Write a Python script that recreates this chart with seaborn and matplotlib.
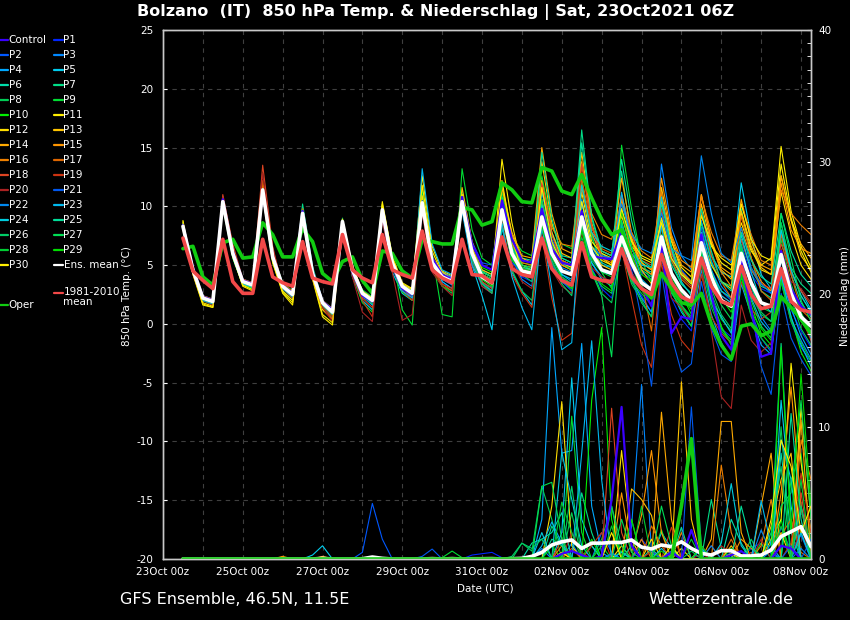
import numpy as np
import pandas as pd
import matplotlib
matplotlib.use('Agg')
import matplotlib.pyplot as plt
import matplotlib.dates as mdates
from matplotlib.lines import Line2D
from matplotlib.ticker import MultipleLocator
import seaborn as sns

# 6-hourly steps, 23Oct 12z .. 08Nov 06z
times = pd.date_range('2021-10-23 12:00', periods=64, freq='6h')

member_names = ['Control'] + ['P%d' % i for i in range(1, 31)]
member_colors = ['#3a00ff', '#0026ff', '#0058ff', '#0088ff', '#00a8ff', '#00ccee',
                 '#00ddaa', '#00dd88', '#00cc55', '#00dd33', '#00ee00', '#ffee00',
                 '#ffdd00', '#ffc400', '#ffaa00', '#ff9500', '#ee8000', '#dd6600',
                 '#dd4422', '#cc3311', '#aa2222', '#0058ee', '#0088ee', '#00b8ee',
                 '#00ccdd', '#00dd99', '#00cc66', '#00dd55', '#00cc33', '#00dd00',
                 '#ffee00']
oper_color = '#11cc11'
clim_color = '#f24848'

ens_mean_temp = [8.3, 4.6, 2.2, 1.9, 10.4, 6.0, 3.6, 3.3, 11.4, 5.7, 3.2, 2.5, 9.4, 4.3, 1.8, 1.0,
                 8.7, 4.6, 2.6, 2.0, 9.7, 5.2, 3.2, 2.6, 10.3, 5.2, 4.0, 3.6, 10.4, 6.0, 4.0, 3.5,
                 9.7, 6.0, 4.5, 4.3, 9.1, 6.0, 4.5, 4.2, 9.1, 6.0, 4.6, 4.3, 7.4, 5.2, 3.5, 2.9,
                 7.4, 4.3, 2.9, 2.0, 6.9, 4.0, 2.0, 1.5, 6.0, 3.5, 1.8, 1.5, 5.9, 2.6, 0.6, -0.2]
oper_temp = [6.4, 6.6, 4.0, 3.3, 6.9, 7.2, 5.6, 5.7, 8.6, 7.6, 5.7, 5.7, 8.1, 7.0, 4.3, 3.6,
             5.3, 5.7, 3.7, 2.6, 6.2, 6.0, 4.5, 3.9, 7.2, 7.0, 6.8, 6.8, 9.9, 9.7, 8.4, 8.7,
             12.0, 11.4, 10.4, 10.3, 13.3, 13.0, 11.3, 11.0, 12.7, 10.7, 8.9, 7.6, 8.0, 5.6, 3.0, 2.2,
             4.3, 3.0, 1.8, 1.6, 2.6, 0.0, -1.8, -3.0, -0.2, 0.0, -1.0, -0.6, 2.3, 1.4, 0.4, -0.8]
clim_temp = [7.3, 4.5, 3.7, 3.0, 7.2, 3.6, 2.6, 2.6, 7.2, 4.0, 3.5, 3.2, 7.0, 3.9, 3.6, 3.4,
             7.6, 4.6, 3.9, 3.5, 7.6, 4.6, 4.2, 3.9, 7.9, 4.6, 3.9, 3.5, 7.2, 4.2, 4.1, 3.5,
             7.4, 4.7, 4.2, 4.0, 7.3, 4.7, 3.7, 3.3, 6.9, 4.0, 3.7, 3.6, 6.4, 4.0, 3.0, 2.5,
             5.9, 3.5, 2.3, 1.9, 5.6, 3.2, 1.9, 1.6, 4.9, 2.5, 1.3, 1.5, 4.7, 1.9, 1.2, 1.0]
ens_mean_precip = [0, 0, 0, 0, 0, 0, 0, 0, 0, 0, 0, 0, 0, 0, 0.05, 0,
                   0, 0, 0.02, 0.15, 0.05, 0, 0, 0, 0, 0.03, 0, 0.03, 0, 0.02, 0.02, 0.03,
                   0, 0.02, 0.05, 0.2, 0.5, 1.06, 1.3, 1.44, 0.8, 1.2, 1.2, 1.25, 1.25, 1.44, 0.9, 0.76,
                   1.06, 0.93, 1.3, 0.8, 0.43, 0.3, 0.63, 0.63, 0.23, 0.23, 0.3, 0.68, 1.7, 2.07, 2.45, 0.93]
oper_precip = [0, 0, 0, 0, 0, 0, 0, 0, 0, 0, 0, 0, 0, 0, 0, 0,
               0, 0, 0, 0, 0, 0, 0, 0, 0, 0, 0, 0, 0, 0, 0, 0,
               0, 0, 0, 0, 0, 0, 0, 0, 0, 0, 0, 0, 0, 0, 0, 0,
               0, 0, 4.0, 9.1, 0, 0, 0, 0, 0, 0, 0, 0, 0, 0, 0, 0]

# one row per member (Control, P1..P30), degC
member_temp = [
    [8.4, 4.8, 2.3, 2.0, 10.6, 6.2, 3.7, 3.4, 11.2, 5.8, 3.3, 2.6, 9.6, 4.5, 1.9, 1.2, 8.4, 4.4, 2.4, 1.9, 9.5, 5.0, 3.0, 2.5, 10.1, 5.6, 4.2, 3.8, 10.8, 6.8, 5.0, 4.6, 10.5, 7.2, 5.4, 5.2, 9.8, 6.4, 5.2, 5.0, 9.6, 5.8, 5.6, 5.5, 7.8, 5.0, 3.2, 1.5, 6.8, -0.8, 0.6, 0.4, 7.6, 2.5, -1.0, -2.2, 5.5, 1.2, -2.8, -2.5, 6.2, 3.0, 1.5, 0.8],
    [8.6, 4.9, 2.0, 1.7, 10.6, 5.8, 3.5, 3.1, 11.8, 5.5, 3.0, 2.3, 9.9, 4.6, 1.6, 0.7, 8.9, 4.2, 2.4, 1.6, 9.2, 4.9, 3.1, 2.3, 10.6, 5.4, 3.6, 3.0, 9.8, 5.2, 3.2, 2.6, 9.0, 5.6, 4.0, 3.6, 10.2, 6.8, 5.1, 4.6, 8.2, 4.8, 3.0, 2.2, 6.1, 3.6, 2.4, 1.0, 5.8, 2.2, 0.4, -0.6, 5.2, 1.8, -0.4, -1.1, 6.8, 4.2, 3.0, 2.6, 4.8, 1.2, -0.6, -2.0],
    [8.2, 4.4, 2.1, 1.8, 10.2, 5.9, 3.7, 3.4, 11.0, 5.9, 3.4, 2.8, 9.2, 4.0, 1.7, 0.9, 8.5, 4.8, 2.8, 2.2, 10.0, 5.6, 3.4, 2.9, 9.8, 5.0, 4.2, 4.0, 11.2, 7.0, 5.2, 5.0, 10.6, 6.4, 4.6, 4.2, 8.4, 5.4, 3.6, 3.0, 10.2, 7.6, 6.2, 5.8, 8.6, 5.8, 4.4, 3.8, 9.6, 6.0, 4.6, 3.6, 8.2, 4.6, 2.8, 2.0, 4.8, 1.0, -1.2, -2.4, 3.6, 0.2, -2.0, -3.2],
    [8.5, 4.6, 2.4, 2.1, 10.5, 6.1, 3.8, 3.5, 11.6, 5.9, 3.4, 2.7, 9.6, 4.3, 1.8, 1.1, 8.6, 4.3, 2.3, 1.8, 9.8, 5.3, 3.3, 2.8, 10.4, 4.9, 3.8, 3.3, 10.0, 5.4, 3.5, 3.1, 9.4, 5.5, 3.8, 3.2, 11.2, 7.2, 5.4, 5.0, 10.4, 6.6, 5.0, 4.8, 7.0, 4.4, 3.0, 2.6, 13.6, 8.2, 5.8, 4.6, 8.8, 5.4, 3.2, 2.2, 6.6, 3.2, 0.6, -0.6, 4.2, 0.4, -1.4, -3.0],
    [8.1, 4.3, 2.0, 1.6, 10.1, 5.6, 3.4, 3.0, 11.1, 5.4, 3.0, 2.2, 9.0, 4.0, 1.5, 0.6, 8.8, 4.8, 2.7, 2.1, 9.6, 5.0, 3.0, 2.4, 10.8, 5.6, 4.4, 4.0, 11.0, 6.4, 4.2, 3.8, 10.2, 6.2, 4.8, 4.6, 9.6, 6.0, 4.2, 3.6, 8.8, 5.2, 4.0, 3.4, 6.6, 3.8, 2.2, 1.0, 6.2, 2.8, 1.0, -0.2, 4.6, 0.8, -1.6, -3.0, 3.4, 0.8, -1.8, -2.6, 4.0, 1.4, -1.0, -2.6],
    [8.4, 4.5, 2.2, 1.8, 10.3, 6.2, 3.6, 3.2, 11.3, 5.6, 3.1, 2.4, 9.2, 4.1, 1.6, 0.8, 8.4, 4.0, 2.0, 1.2, 9.0, 4.4, 2.6, 2.0, 11.0, 5.8, 3.6, 3.0, 10.0, 5.0, 2.4, -0.5, 8.2, 4.4, 2.8, 1.6, 9.8, 6.0, 4.2, 3.8, 9.6, 5.2, 3.8, 3.2, 8.4, 6.0, 4.8, 4.2, 9.0, 5.6, 4.2, 3.6, 9.6, 5.8, 4.4, 4.0, 12.0, 7.4, 4.2, 3.0, 7.6, 4.4, 2.8, 1.2],
    [8.3, 4.7, 2.3, 2.0, 10.4, 6.0, 3.5, 3.3, 11.5, 5.8, 3.2, 2.6, 9.7, 4.6, 2.0, 1.3, 8.9, 4.7, 2.7, 2.2, 10.0, 5.5, 3.3, 2.8, 9.9, 5.0, 3.9, 3.5, 10.6, 6.2, 4.6, 4.2, 10.8, 7.0, 5.6, 5.4, 11.6, 7.8, 5.8, 5.6, 12.0, 7.4, 5.2, 4.8, 9.6, 6.4, 4.8, 4.4, 8.8, 5.0, 3.4, 2.6, 7.6, 4.4, 2.8, 2.2, 7.2, 4.6, 3.2, 2.8, 8.0, 4.2, 1.8, 0.6],
    [8.5, 4.8, 2.3, 1.9, 10.7, 6.3, 3.7, 3.4, 11.6, 5.6, 3.1, 2.4, 10.2, 4.9, 2.0, 1.2, 8.8, 4.6, 2.5, 1.8, 9.5, 5.0, 3.1, 2.4, 10.3, 5.5, 4.1, 3.7, 10.9, 6.5, 4.5, 4.0, 10.8, 6.8, 5.0, 4.6, 11.4, 7.6, 5.6, 5.2, 16.5, 9.0, 6.0, 5.4, 13.0, 7.2, 4.6, 4.0, 9.0, 5.4, 3.4, 2.6, 8.6, 5.2, 3.6, 3.2, 9.8, 5.6, 2.8, 2.2, 8.6, 4.8, 3.4, 2.6],
    [8.2, 4.5, 2.1, 1.8, 10.2, 5.9, 3.5, 3.2, 11.2, 5.8, 3.3, 2.7, 9.5, 4.5, 1.9, 1.1, 9.0, 4.6, 2.9, 2.3, 9.6, 5.1, 3.0, 2.5, 10.6, 5.4, 3.2, 2.6, 11.2, 6.4, 3.6, 2.8, 8.4, 4.6, 2.8, 2.0, 8.0, 5.2, 3.6, 3.0, 7.4, 4.6, 2.6, 1.8, 6.2, 3.4, 2.0, 0.6, 5.6, 2.6, 1.4, 0.4, 5.8, 2.6, 0.4, -0.6, 5.0, 2.4, 0.8, 0.2, 8.6, 4.6, 2.4, 1.0],
    [8.6, 4.7, 2.0, 1.6, 10.8, 6.2, 3.4, 3.0, 11.0, 5.2, 2.8, 2.0, 9.8, 4.6, 1.6, 0.5, 8.3, 4.1, 1.8, 1.0, 10.1, 5.8, 1.2, -0.1, 11.4, 6.0, 0.8, 0.6, 13.2, 8.0, 5.6, 5.0, 11.2, 7.4, 6.2, 5.8, 12.6, 8.4, 6.8, 6.4, 12.0, 7.6, 4.4, 3.0, 15.2, 9.8, 5.4, 3.6, 7.6, 2.8, 1.2, -0.2, 6.0, 1.8, -0.4, -1.4, 6.4, 3.2, 1.4, 1.0, 7.2, 3.4, 1.0, -0.8],
    [8.3, 4.4, 2.0, 1.7, 10.0, 5.6, 3.3, 3.0, 11.2, 6.0, 3.5, 2.8, 9.2, 4.2, 1.5, 0.7, 8.6, 4.7, 2.6, 1.9, 9.9, 5.4, 2.7, 2.0, 10.4, 4.8, 3.2, 2.8, 10.8, 6.4, 4.8, 4.4, 10.2, 6.4, 5.2, 5.0, 9.8, 5.8, 3.8, 3.2, 8.8, 5.6, 4.6, 4.2, 9.4, 5.8, 3.6, 2.8, 8.2, 4.4, 2.6, 0.8, 6.4, 2.4, -0.2, -1.8, 4.4, 1.6, -0.8, -1.8, 3.8, 0.6, -2.4, -4.0],
    [8.8, 4.2, 1.6, 1.4, 10.6, 5.8, 3.2, 2.8, 11.0, 5.2, 2.6, 1.6, 9.4, 3.8, 0.6, -0.1, 8.8, 4.9, 2.8, 2.2, 10.4, 5.8, 3.5, 3.0, 12.6, 6.6, 4.4, 3.8, 11.0, 6.6, 4.2, 3.8, 14.0, 8.6, 4.8, 4.6, 10.2, 6.6, 5.0, 4.6, 11.2, 7.0, 6.0, 5.6, 9.2, 6.6, 5.6, 5.2, 10.4, 7.0, 4.8, 4.0, 9.4, 6.6, 5.6, 5.0, 8.6, 6.2, 5.0, 5.6, 15.1, 9.6, 6.6, 4.8],
    [8.4, 4.4, 1.8, 1.5, 10.3, 5.7, 3.4, 3.1, 11.3, 5.4, 2.8, 2.0, 9.1, 4.0, 1.2, 0.4, 8.5, 4.4, 2.5, 1.8, 9.6, 5.0, 3.2, 2.6, 10.9, 5.6, 4.5, 4.1, 10.6, 6.0, 3.9, 3.4, 10.4, 7.0, 5.0, 4.8, 12.2, 7.8, 5.4, 5.0, 9.2, 6.2, 5.0, 4.6, 10.6, 7.2, 5.2, 4.6, 9.0, 6.0, 4.2, 3.6, 7.4, 5.0, 3.6, 3.0, 9.4, 6.4, 4.6, 4.2, 11.2, 7.6, 5.0, 3.8],
    [8.5, 4.6, 2.0, 1.7, 10.5, 6.0, 3.6, 3.3, 11.7, 6.0, 3.3, 2.6, 9.3, 4.3, 1.6, 0.8, 8.6, 4.5, 2.4, 1.7, 9.7, 5.2, 3.1, 2.5, 10.5, 5.4, 4.2, 3.8, 11.6, 7.0, 4.6, 4.2, 11.6, 7.6, 5.6, 5.2, 13.8, 8.6, 6.0, 5.6, 14.6, 8.6, 5.6, 5.0, 11.0, 7.4, 4.6, 3.4, 11.6, 7.2, 4.4, 3.6, 10.2, 6.8, 4.6, 3.8, 9.6, 6.6, 4.8, 4.2, 12.6, 8.8, 5.8, 4.6],
    [8.2, 4.5, 2.1, 1.8, 10.4, 5.9, 3.6, 3.2, 11.4, 5.8, 3.2, 2.5, 9.3, 4.4, 1.7, 1.0, 8.8, 4.6, 2.6, 2.0, 9.6, 5.1, 3.3, 2.7, 10.2, 5.0, 3.9, 3.4, 10.6, 6.4, 4.4, 4.0, 11.8, 7.8, 5.8, 5.6, 15.0, 9.4, 6.4, 6.0, 13.8, 8.2, 6.2, 5.8, 12.4, 7.8, 5.2, 4.6, 10.6, 7.4, 5.0, 4.4, 11.0, 7.2, 4.8, 4.2, 10.6, 7.0, 5.0, 4.6, 12.6, 8.8, 6.8, 5.6],
    [8.4, 4.7, 2.3, 2.0, 10.6, 6.1, 3.7, 3.4, 11.8, 6.0, 3.3, 2.6, 9.5, 4.4, 1.8, 1.0, 8.7, 4.7, 2.5, 1.9, 9.8, 5.3, 3.2, 2.6, 10.1, 5.3, 4.0, 3.6, 10.2, 5.8, 3.8, 3.2, 9.6, 5.6, 4.8, 4.4, 10.0, 6.4, 5.0, 4.6, 11.6, 7.8, 5.6, 5.2, 10.6, 7.0, 4.8, 4.2, 12.4, 7.6, 5.4, 4.8, 11.0, 7.0, 4.4, 3.2, 8.2, 5.6, 3.6, 2.8, 12.0, 8.0, 6.4, 6.0],
    [8.3, 4.5, 2.2, 1.9, 10.3, 5.9, 3.5, 3.2, 11.2, 5.7, 3.2, 2.5, 9.4, 4.3, 1.8, 0.9, 8.6, 4.6, 2.6, 2.0, 9.5, 5.2, 3.2, 2.6, 10.2, 5.2, 4.0, 3.6, 10.4, 6.2, 4.2, 3.6, 10.4, 6.8, 5.2, 5.0, 11.8, 8.2, 6.8, 6.6, 13.6, 9.4, 7.6, 7.2, 10.2, 7.8, 6.2, 5.6, 11.2, 6.2, 4.4, 3.6, 10.8, 7.8, 5.8, 5.4, 10.2, 7.6, 5.4, 5.0, 11.4, 9.4, 8.4, 7.6],
    [8.6, 4.8, 2.4, 2.1, 10.8, 6.2, 3.8, 3.5, 12.2, 6.0, 3.4, 2.8, 9.8, 4.6, 2.0, 1.3, 8.9, 4.8, 2.7, 2.1, 9.9, 5.4, 3.3, 2.7, 10.4, 5.6, 4.2, 3.8, 10.8, 6.4, 4.0, 3.6, 9.8, 6.4, 4.6, 4.4, 10.6, 6.4, 5.4, 5.0, 12.4, 8.2, 6.4, 6.0, 9.6, 6.0, 3.6, -0.6, 8.4, 5.4, 3.8, 3.0, 9.6, 5.8, 3.6, 2.2, 9.2, 5.6, 2.8, 2.0, 7.6, 4.2, 1.2, 0.4],
    [8.0, 4.2, 2.1, 1.7, 11.0, 6.8, 3.8, 3.4, 13.5, 6.6, 3.0, 2.2, 9.0, 3.8, 1.4, 0.4, 8.2, 4.4, 2.2, 1.4, 9.4, 4.8, 3.0, 2.2, 10.0, 4.8, 3.4, 2.8, 10.6, 6.2, 3.6, 3.0, 10.4, 6.6, 4.8, 4.4, 12.0, 7.6, 5.2, 4.8, 13.6, 8.4, 5.8, 5.4, 11.0, 7.6, 5.4, 5.0, 9.8, 6.0, 4.0, 3.2, 7.8, 4.4, 2.4, 1.8, 7.2, 4.6, 3.4, 3.0, 6.8, 4.4, 2.8, 1.6],
    [8.4, 4.6, 2.2, 1.9, 10.5, 6.0, 3.6, 3.3, 11.4, 5.6, 3.0, 2.4, 9.2, 4.2, 1.6, 0.6, 8.2, 4.2, 2.0, 0.6, 9.2, 4.8, 2.8, 2.0, 10.0, 4.6, 3.4, 3.0, 9.8, 5.4, 3.2, 2.6, 8.8, 4.2, 2.6, 1.4, 7.6, 2.2, -1.4, -0.8, 7.0, 4.0, 3.6, 3.4, 6.4, 2.2, -1.8, -3.7, 5.2, 0.8, -1.4, -2.4, 4.2, 0.6, -0.8, -1.6, 3.6, 1.2, 0.4, 1.0, 4.4, 2.0, 0.6, -1.4],
    [8.1, 4.3, 2.0, 1.6, 10.8, 6.4, 3.6, 3.2, 12.8, 6.4, 3.2, 2.4, 9.6, 4.4, 1.4, 0.2, 8.4, 4.0, 1.0, 0.2, 8.8, 4.4, 0.3, 0.8, 9.4, 4.4, 3.2, 2.4, 10.0, 5.0, 3.4, 2.8, 9.2, 5.2, 3.6, 3.0, 8.4, 4.6, 3.2, 2.6, 7.8, 4.8, 4.0, 3.6, 7.6, 4.4, 3.0, 2.4, 6.0, 2.2, 1.4, 0.2, 5.0, -0.6, -6.2, -7.2, 1.6, -1.4, -2.4, -1.6, 6.4, 3.6, 3.0, 1.8],
    [8.3, 4.6, 2.2, 1.9, 10.3, 5.9, 3.5, 3.2, 11.3, 5.6, 3.2, 2.6, 9.5, 4.5, 1.9, 1.2, 8.9, 4.7, 2.6, 2.1, 9.8, 5.4, 3.3, 2.7, 10.5, 5.3, 4.1, 3.7, 10.5, 5.6, 3.8, 3.4, 9.4, 5.2, 4.4, 4.0, 8.8, 5.0, 3.6, 2.8, 8.2, 5.4, 4.6, 4.4, 8.8, 4.6, 0.4, -5.3, 4.4, -1.0, -4.1, -3.4, 3.6, -0.4, -2.6, -3.2, 4.6, 1.4, -3.6, -6.0, 2.6, -1.2, -3.0, -4.4],
    [8.5, 4.7, 2.3, 2.0, 10.6, 6.1, 3.7, 3.4, 11.5, 5.8, 3.3, 2.6, 9.4, 4.4, 1.8, 1.0, 8.5, 4.5, 2.6, 2.0, 9.7, 5.2, 3.2, 2.6, 10.2, 5.2, 4.0, 3.6, 10.3, 6.0, 4.2, 3.8, 9.8, 6.2, 4.4, 4.0, 9.4, 5.8, 4.8, 4.4, 10.6, 6.6, 5.8, 5.6, 10.2, 7.6, 6.4, 6.0, 9.4, 6.4, 5.8, 5.4, 14.3, 9.4, 6.0, 5.2, 8.2, 4.8, 3.4, 2.6, 5.4, 2.2, 0.8, -1.2],
    [8.2, 4.4, 2.0, 1.7, 10.2, 5.8, 3.4, 3.1, 11.2, 5.5, 3.0, 2.3, 9.4, 4.2, 1.6, 0.8, 8.6, 4.4, 2.4, 1.6, 9.4, 4.8, 2.8, 2.2, 13.2, 6.8, 4.6, 4.2, 9.6, 5.0, 3.4, 2.8, 8.6, 4.0, 1.4, -0.5, 8.4, 3.0, -2.2, -1.6, 10.4, 6.4, 4.4, 4.2, 11.2, 6.6, 3.8, 3.0, 8.4, 3.4, 2.2, 1.6, 7.8, 4.6, 2.4, 1.8, 5.6, 2.2, 0.2, -0.8, 4.2, 0.6, -1.8, -3.6],
    [8.4, 4.6, 2.2, 1.9, 10.4, 6.0, 3.6, 3.3, 11.4, 5.7, 3.2, 2.5, 9.3, 4.3, 1.8, 1.0, 8.7, 4.6, 2.6, 2.0, 9.7, 5.2, 3.2, 2.6, 10.3, 5.2, 4.0, 3.6, 10.5, 6.2, 4.4, 4.0, 10.4, 6.4, 5.4, 5.2, 10.2, 6.0, 4.0, 3.4, 11.8, 7.8, 6.6, 6.2, 9.8, 6.4, 5.0, 4.8, 10.8, 6.4, 3.6, 2.4, 6.4, 2.0, 0.6, -0.8, 7.6, 4.4, 1.8, 1.0, 8.0, 4.6, 2.4, 1.0],
    [8.3, 4.5, 2.2, 1.8, 10.4, 6.0, 3.6, 3.3, 11.4, 5.8, 3.3, 2.6, 9.5, 4.4, 1.8, 1.0, 8.7, 4.6, 2.6, 2.0, 9.7, 5.2, 3.2, 2.6, 10.3, 5.2, 4.0, 3.6, 10.4, 6.0, 4.0, 3.4, 10.0, 6.4, 4.8, 4.6, 14.6, 9.0, 5.6, 5.2, 15.4, 9.2, 6.2, 5.8, 14.0, 8.8, 5.4, 4.8, 10.2, 6.6, 4.2, 3.4, 9.8, 6.2, 3.6, 2.8, 7.8, 5.4, 4.0, 3.4, 9.4, 6.2, 4.2, 3.2],
    [8.4, 4.6, 2.1, 1.8, 10.3, 5.9, 3.5, 3.2, 11.3, 5.6, 3.1, 2.4, 9.3, 4.3, 1.7, 0.9, 8.6, 4.5, 2.4, 1.7, 9.6, 5.1, 3.1, 2.5, 10.4, 5.4, 4.0, 3.6, 10.2, 5.4, 3.4, 2.6, 9.2, 5.6, 4.2, 3.6, 9.4, 5.4, 3.4, 2.4, 8.4, 4.6, 3.2, 2.6, 7.2, 3.8, 1.8, 0.6, 7.0, 3.6, 1.6, 0.4, 6.4, 3.0, 0.8, -0.4, 6.8, 3.2, 1.0, 0.2, 5.6, 2.2, -0.4, -1.8],
    [8.3, 4.5, 2.2, 1.9, 10.3, 6.0, 3.6, 3.2, 11.2, 5.6, 3.2, 2.5, 9.4, 4.3, 1.8, 1.0, 8.7, 4.6, 2.6, 2.0, 9.7, 5.2, 3.2, 2.6, 10.3, 5.2, 4.0, 3.6, 10.4, 6.0, 4.4, 4.0, 10.8, 6.6, 5.0, 4.8, 10.6, 6.8, 5.2, 4.6, 8.8, 4.4, 2.4, -2.8, 8.8, 5.2, 3.6, 2.8, 7.4, 4.0, 2.6, 1.4, 6.6, 3.6, 1.6, 0.4, 5.4, 2.0, -0.2, -1.2, 9.4, 5.6, 2.0, 0.2],
    [8.5, 4.7, 2.3, 2.0, 10.5, 6.1, 3.7, 3.4, 11.5, 5.8, 3.3, 2.6, 9.5, 4.4, 1.9, 1.1, 8.8, 4.7, 2.7, 2.1, 9.8, 5.3, 3.3, 2.7, 10.4, 5.3, 4.1, 3.7, 10.5, 6.1, 4.2, 3.8, 10.0, 6.2, 4.8, 4.4, 9.4, 5.6, 4.0, 3.4, 9.0, 5.4, 4.4, 4.0, 6.8, 3.6, 2.6, 1.6, 6.6, 3.0, 1.6, 0.6, 5.2, 1.4, -0.6, -1.6, 4.0, 0.6, -1.2, -2.2, 3.6, 0.2, -1.6, -3.2],
    [8.2, 4.4, 2.1, 1.8, 10.3, 5.9, 3.5, 3.2, 11.3, 5.6, 3.1, 2.4, 9.3, 4.2, 1.7, 0.9, 8.6, 4.5, 2.5, 1.9, 9.6, 5.1, 3.1, 2.5, 10.2, 5.1, 3.9, 3.5, 10.3, 5.8, 3.8, 3.2, 9.2, 5.4, 4.6, 4.2, 8.4, 4.8, 3.8, 3.0, 8.0, 4.4, 3.4, 2.8, 9.6, 6.6, 4.2, 3.6, 7.2, 3.8, 2.4, 1.2, 7.0, 4.4, 2.2, 1.0, 4.2, 1.0, -0.4, -1.4, 6.2, 2.6, 0.2, -1.0],
    [8.7, 4.3, 1.7, 1.4, 10.5, 5.8, 3.3, 2.9, 11.1, 5.3, 2.7, 1.8, 9.6, 3.9, 0.8, 0.1, 8.9, 5.0, 2.7, 2.1, 10.2, 5.6, 3.4, 2.9, 11.8, 6.2, 4.2, 3.6, 11.0, 6.4, 4.0, 3.6, 12.2, 7.4, 4.4, 4.2, 11.6, 7.0, 5.2, 4.8, 10.4, 6.6, 5.4, 5.0, 9.8, 7.0, 5.8, 5.4, 8.6, 5.6, 4.2, 3.4, 9.2, 6.8, 5.2, 4.6, 10.2, 7.2, 5.8, 5.4, 13.6, 9.0, 6.2, 4.4],
]

# one row per member, mm per 6 h
member_precip = [
    [0, 0, 0, 0, 0, 0, 0, 0, 0, 0, 0, 0, 0, 0, 0, 0, 0, 0, 0, 0, 0, 0, 0, 0, 0, 0, 0, 0, 0, 0, 0, 0,
     0, 0, 0, 0, 0, 0, 0.4, 0.6, 0.3, 0, 0.2, 4.5, 11.5, 1.0, 0, 0, 0, 0.5, 0, 2.2, 0, 0, 0, 0.3, 0.6, 0, 0, 0, 1.0, 0.8, 0, 0],
    [0, 0, 0, 0, 0, 0, 0, 0, 0, 0, 0, 0, 0, 0, 0, 0, 0, 0, 0, 0, 0, 0, 0, 0, 0, 0, 0, 0, 0, 0.3, 0.4, 0.5,
     0.1, 0, 0, 0, 0, 0, 0, 0, 0, 0, 0, 0, 0, 0, 1.5, 0.6, 0, 0, 0, 0, 0, 0, 0, 0, 0, 0.8, 1.2, 0, 0, 0, 0, 0],
    [0, 0, 0, 0, 0, 0, 0, 0, 0, 0, 0, 0, 0, 0, 0, 0, 0, 0, 0.5, 4.2, 1.5, 0, 0, 0, 0, 0, 0, 0, 0, 0, 0, 0,
     0, 0, 0, 0, 0, 0, 0, 0, 0, 0, 2.0, 0.5, 0, 0, 0, 0, 0, 0, 0, 0, 0.8, 0, 0, 0, 0, 0, 0, 0, 2.4, 0.6, 1.8, 0],
    [0, 0, 0, 0, 0, 0, 0, 0, 0, 0, 0, 0, 0, 0, 0, 0, 0, 0, 0, 0, 0, 0, 0, 0, 0, 0, 0, 0, 0, 0, 0, 0,
     0, 0, 0, 0, 0.8, 0, 0, 1.2, 0, 0, 0, 0, 0, 2.4, 13.2, 0.5, 0, 0, 0, 0, 0, 0, 0, 0, 0, 0, 0, 0.6, 0, 0, 4.0, 1.0],
    [0, 0, 0, 0, 0, 0, 0, 0, 0, 0, 0, 0, 0, 0, 0, 0, 0, 0, 0, 0, 0, 0, 0, 0, 0, 0, 0, 0, 0, 0, 0, 0,
     0, 0, 0, 0, 3.0, 17.5, 8.0, 8.2, 16.3, 4.0, 0.5, 0, 0, 0, 0, 0, 0, 0, 0, 0, 0, 0, 0, 0, 0.6, 0, 0, 0, 0, 0, 0, 0],
    [0, 0, 0, 0, 0, 0, 0, 0, 0, 0, 0, 0, 0, 0.3, 1.0, 0, 0, 0, 0, 0, 0, 0, 0, 0, 0, 0, 0, 0, 0, 0, 0, 0,
     0, 0, 0, 0, 0, 0, 2.0, 13.7, 3.0, 1.0, 0, 0, 0, 0, 0, 0, 2.0, 0.8, 0, 0, 0, 0, 0, 0, 0, 0, 0, 0, 12.0, 4.0, 0, 0],
    [0, 0, 0, 0, 0, 0, 0, 0, 0, 0, 0, 0, 0, 0, 0, 0, 0, 0, 0, 0, 0, 0, 0, 0, 0, 0, 0, 0, 0, 0, 0, 0,
     0, 0, 0, 1.2, 1.5, 2.0, 3.5, 0, 0, 1.0, 0, 0, 0, 0, 0, 0.8, 0, 0, 0, 0, 0, 0, 0, 3.0, 1.2, 0, 0, 0, 8.0, 2.0, 0, 0],
    [0, 0, 0, 0, 0, 0, 0, 0, 0, 0, 0, 0, 0, 0, 0, 0, 0, 0, 0, 0, 0, 0, 0, 0, 0, 0, 0, 0, 0, 0, 0, 0,
     0, 0, 0, 0, 0, 2.5, 1.0, 0, 5.0, 2.0, 0, 0, 0.6, 0, 0, 0, 0, 0, 0, 0, 0, 4.5, 0.8, 0, 0, 0, 0, 1.2, 16.3, 3.0, 0, 0],
    [0, 0, 0, 0, 0, 0, 0, 0, 0, 0, 0, 0, 0, 0, 0, 0, 0, 0, 0, 0, 0, 0, 0, 0, 0, 0, 0, 0, 0, 0, 0, 0,
     0, 0, 1.2, 0.6, 5.5, 3.0, 0, 3.5, 0, 0, 1.5, 4.0, 0, 3.0, 0, 0, 0, 0, 0, 0, 0, 0, 0, 0, 0, 1.5, 0, 0, 10.0, 0, 2.0, 0],
    [0, 0, 0, 0, 0, 0, 0, 0, 0, 0, 0, 0, 0, 0, 0, 0, 0, 0, 0, 0, 0, 0, 0, 0, 0, 0, 0.1, 0.6, 0.1, 0, 0, 0,
     0, 0, 0, 0, 0, 0, 0, 10.8, 2.0, 0, 1.0, 0, 0, 0, 0, 0, 2.2, 0, 0, 0, 0, 0, 0, 0, 0, 0, 1.2, 0, 0, 6.0, 8.0, 1.0],
    [0, 0, 0, 0, 0, 0, 0, 0, 0, 0, 0, 0, 0, 0, 0, 0, 0, 0, 0, 0, 0, 0, 0, 0, 0, 0, 0, 0, 0, 0, 0, 0,
     0, 0, 0, 0, 0, 1.0, 0, 0, 0, 12.0, 17.5, 3.0, 0, 0, 0, 0, 0, 0, 0, 0, 0, 0, 0, 0.8, 0, 0, 0, 0, 3.0, 0, 0, 0],
    [0, 0, 0, 0, 0, 0, 0, 0, 0, 0, 0, 0, 0, 0, 0, 0, 0, 0, 0, 0, 0, 0, 0, 0, 0, 0, 0, 0, 0, 0, 0, 0,
     0, 0, 0, 0, 0, 0, 0.5, 0, 0, 0, 0, 0, 1.0, 0, 0, 1.5, 0, 0, 0.8, 0, 0, 0, 0, 0, 0, 0, 0, 1.5, 3.0, 14.8, 7.3, 2.0],
    [0, 0, 0, 0, 0, 0, 0, 0, 0, 0, 0, 0, 0, 0, 0, 0, 0, 0, 0, 0, 0, 0, 0, 0, 0, 0, 0, 0, 0, 0, 0, 0,
     0, 0, 0, 0, 0, 4.0, 11.9, 1.0, 0, 0, 0, 0, 8.2, 1.5, 0, 0, 0, 0, 0, 0, 1.0, 0, 0, 0, 0, 0, 0, 0, 2.0, 0, 11.5, 3.0],
    [0, 0, 0, 0, 0, 0, 0, 0, 0, 0, 0, 0, 0, 0, 0, 0, 0, 0, 0, 0, 0, 0, 0, 0, 0, 0, 0, 0, 0, 0, 0, 0,
     0, 0, 0, 0, 0, 0, 0, 0, 0, 0, 0, 0, 0, 5.3, 4.5, 3.3, 0, 0, 13.4, 3.0, 0, 0, 0, 1.0, 0, 0, 0, 2.5, 6.0, 8.0, 0, 0],
    [0, 0, 0, 0, 0, 0, 0, 0, 0, 0, 0, 0, 0, 0, 0, 0, 0, 0, 0, 0, 0, 0, 0, 0, 0, 0, 0, 0, 0, 0, 0, 0,
     0, 0, 0, 0, 0, 0, 0, 0, 0, 0, 0, 0, 0, 0, 0, 0, 11.1, 3.0, 0, 0, 0, 1.5, 10.4, 10.4, 2.0, 0, 4.0, 8.0, 0, 0, 10.5, 0],
    [0, 0, 0, 0, 0, 0, 0, 0, 0, 0, 0.2, 0, 0, 0, 0.2, 0, 0, 0, 0, 0, 0, 0, 0, 0, 0, 0, 0, 0, 0, 0, 0, 0,
     0, 0, 0, 0, 0, 0, 0, 0, 0, 0, 0, 0, 5.0, 0.5, 3.3, 8.2, 2.0, 0, 0, 0, 0, 0, 0, 0, 1.5, 0.8, 0, 0, 5.0, 13.0, 4.0, 0],
    [0, 0, 0, 0, 0, 0, 0, 0, 0, 0, 0, 0, 0, 0, 0, 0, 0, 0, 0, 0, 0, 0, 0, 0, 0, 0, 0, 0, 0, 0, 0, 0,
     0, 0, 0, 0, 0, 0, 1.0, 0, 0, 0, 0, 0, 0, 0, 1.5, 0, 0, 0, 2.0, 0, 0, 0, 7.1, 2.0, 0, 0, 1.0, 4.5, 0, 0, 9.0, 6.0],
    [0, 0, 0, 0, 0, 0, 0, 0, 0, 0, 0, 0, 0, 0, 0, 0, 0, 0, 0, 0, 0, 0, 0, 0, 0, 0, 0, 0, 0, 0, 0, 0,
     0, 0, 0, 0, 0, 0, 0, 0.8, 0, 0, 0, 0, 0, 0, 0, 2.5, 1.0, 0, 0, 0, 0, 0, 0, 1.5, 0, 0, 0, 0, 1.8, 3.0, 0.5, 0],
    [0, 0, 0, 0, 0, 0, 0, 0, 0, 0, 0, 0, 0, 0, 0, 0, 0, 0.1, 0, 0, 0, 0, 0, 0, 0, 0, 0, 0, 0, 0, 0, 0,
     0, 0, 0, 0, 0, 0, 1.5, 0, 0, 0, 0, 11.4, 2.0, 0, 0, 0, 0, 0, 0, 0, 1.0, 0, 0, 0, 0, 0.5, 0, 0, 0, 0, 5.0, 0],
    [0, 0, 0, 0, 0, 0, 0, 0, 0, 0, 0, 0, 0, 0, 0, 0, 0, 0, 0, 0, 0, 0, 0, 0, 0, 0, 0, 0, 0, 0, 0, 0,
     0, 0, 0, 0, 0, 0, 0, 0, 0, 1.0, 2.0, 0, 0, 0, 0, 0.6, 0, 2.4, 0, 0, 0, 1.0, 0, 0, 0, 0, 0, 0, 0, 1.2, 6.5, 2.0],
    [0, 0, 0, 0, 0, 0, 0, 0, 0, 0, 0, 0, 0, 0, 0, 0, 0, 0, 0, 0, 0, 0, 0, 0, 0, 0, 0, 0, 0, 0, 0, 0,
     0, 0, 0, 0, 0, 0, 0, 2.0, 0.5, 0, 0, 0, 0, 0, 0, 0, 0, 0, 0, 0, 0.4, 0, 1.0, 0.4, 0, 0, 1.5, 0, 0, 0, 2.5, 0],
    [0, 0, 0, 0, 0, 0, 0, 0, 0, 0, 0, 0, 0, 0, 0, 0, 0, 0, 0, 0, 0, 0, 0, 0, 0.2, 0.75, 0, 0, 0, 0, 0, 0,
     0, 0, 0, 0, 0, 0, 0, 0, 0, 0, 0, 0, 0, 0, 1.0, 0.6, 0, 0, 0, 11.5, 1.0, 0, 0, 0.5, 0, 0, 0, 0, 0, 1.0, 0, 1.5],
    [0, 0, 0, 0, 0, 0, 0, 0, 0, 0, 0, 0, 0, 0, 0, 0, 0, 0, 0, 0, 0, 0, 0, 0, 0, 0, 0, 0, 0, 0, 0, 0,
     0, 0, 0, 0, 0, 0, 0, 0, 0, 0, 0, 0.4, 0, 0, 0, 0, 0, 0.6, 0, 0, 0, 1.0, 0, 0, 0, 0, 2.2, 0.4, 0, 0, 0.8, 0],
    [0, 0, 0, 0, 0, 0, 0, 0, 0, 0, 0, 0, 0, 0, 0, 0, 0, 0, 0, 0, 0, 0, 0, 0, 0, 0, 0, 0, 0, 0, 0, 0,
     0, 0, 0, 0, 1.0, 2.8, 1.2, 0, 8.0, 16.5, 6.0, 0, 0, 0, 0, 0, 0, 0, 0, 0, 0.8, 0, 0, 0, 0, 0, 4.4, 1.0, 0, 0, 2.0, 0],
    [0, 0, 0, 0, 0, 0, 0, 0, 0, 0, 0, 0, 0, 0, 0, 0, 0, 0, 0, 0, 0, 0, 0, 0, 0, 0, 0, 0, 0, 0, 0, 0,
     0, 0, 0, 0, 2.0, 0, 8.1, 4.5, 1.0, 0, 0, 0, 0.5, 0, 0, 0, 0.8, 0, 0, 0, 0, 0, 1.2, 5.7, 1.0, 0, 0, 0, 9.0, 6.0, 0, 0],
    [0, 0, 0, 0, 0, 0, 0, 0, 0, 0, 0, 0, 0, 0, 0, 0, 0, 0, 0, 0, 0, 0, 0, 0, 0, 0, 0, 0, 0, 0, 0, 0,
     0, 0, 0, 0, 0, 1.5, 1.0, 0, 0, 0, 0, 0, 0, 1.0, 0, 0, 0, 0, 2.4, 0, 0, 0, 0, 0, 4.0, 1.0, 0, 0, 0, 11.0, 3.0, 0],
    [0, 0, 0, 0, 0, 0, 0, 0, 0, 0, 0, 0, 0, 0, 0, 0, 0, 0, 0, 0, 0, 0, 0, 0, 0, 0, 0, 0, 0, 0, 0, 0,
     0, 0.2, 1.2, 0.8, 1.5, 0, 0, 5.5, 0, 0, 0, 4.0, 1.0, 0, 0, 0, 0, 0, 0, 0.6, 0, 0, 0, 0, 0, 0, 0, 2.0, 7.0, 0, 4.0, 0],
    [0, 0, 0, 0, 0, 0, 0, 0, 0, 0, 0, 0, 0, 0, 0, 0, 0, 0, 0, 0, 0, 0, 0, 0, 0, 0, 0, 0, 0, 0, 0, 0,
     0, 0, 0, 0, 5.5, 5.8, 1.5, 0, 0, 0, 0, 0, 3.0, 0.5, 0, 0, 4.0, 1.0, 0, 0, 0, 0, 0, 0, 0, 1.0, 0, 0, 4.0, 5.0, 12.0, 3.0],
    [0, 0, 0, 0, 0, 0, 0, 0, 0, 0, 0, 0, 0, 0, 0, 0, 0, 0, 0, 0, 0, 0, 0, 0, 0, 0, 0, 0, 0, 0, 0, 0,
     0, 0, 0, 0, 0, 0, 4.3, 2.0, 0, 0, 0, 2.5, 0, 0, 4.0, 0, 0, 0, 0, 1.5, 0, 0, 0, 0, 0, 0, 0, 0, 2.5, 0, 6.0, 0],
    [0, 0, 0, 0, 0, 0, 0, 0, 0, 0, 0, 0, 0, 0, 0, 0, 0, 0, 0, 0, 0, 0, 0, 0, 0, 0, 0, 0, 0, 0, 0, 0,
     0, 0, 0, 0, 0, 0, 0, 0, 0, 1.5, 0, 0, 0, 3.0, 0, 0, 0.6, 0, 0, 0, 1.0, 0, 0, 0, 0, 0, 0, 0, 16.0, 2.0, 14.0, 4.0],
    [0, 0, 0, 0, 0, 0, 0, 0, 0, 0, 0, 0, 0, 0, 0, 0, 0, 0, 0, 0, 0, 0, 0, 0, 0, 0, 0, 0, 0, 0, 0, 0,
     0, 0, 0, 0, 0, 0, 0.5, 0, 0, 0, 0, 2.0, 0, 0, 0, 0, 0, 1.0, 0, 0, 0, 0, 0, 0.4, 0, 0, 0, 3.0, 9.0, 7.0, 2.0, 4.0],
]

x_ticks = pd.date_range('2021-10-23', '2021-11-08', freq='2D')
x_days = pd.date_range('2021-10-23', '2021-11-08', freq='D')

sns.set_style('dark', {'axes.facecolor': 'black', 'figure.facecolor': 'black',
                       'axes.edgecolor': '#c8c8c8', 'text.color': 'white',
                       'axes.labelcolor': 'white', 'xtick.color': 'white', 'ytick.color': 'white'})
plt.rcParams['font.family'] = ['DejaVu Sans']
plt.rcParams['axes.unicode_minus'] = False

frames = []
for name, t, p in zip(member_names, member_temp, member_precip):
    frames.append(pd.DataFrame({'time': times, 'member': name, 'temp': t, 'precip': p}))
df = pd.concat(frames, ignore_index=True)
palette = dict(zip(member_names, member_colors))
pert = df[df['member'] != 'Control']
ctrl = df[df['member'] == 'Control']
pert_palette = {k: v for k, v in palette.items() if k != 'Control'}

W, H = 850, 620
fig = plt.figure(figsize=(8.5, 6.2), dpi=100, facecolor='black')
ax = fig.add_axes([163 / W, 1 - 559 / H, (811 - 163) / W, (559 - 30) / H])
ax.set_facecolor('black')
ax2 = ax.twinx()

# temperature
sns.lineplot(data=pert, x='time', y='temp', hue='member', palette=pert_palette,
             estimator=None, sort=False, legend=False, linewidth=0.8, ax=ax)
sns.lineplot(data=ctrl, x='time', y='temp', color=palette['Control'],
             estimator=None, sort=False, linewidth=1.6, ax=ax)
sns.lineplot(x=times, y=oper_temp, color=oper_color, linewidth=2.6, errorbar=None, ax=ax)
sns.lineplot(x=times, y=ens_mean_temp, color='white', linewidth=2.6, errorbar=None, ax=ax)
sns.lineplot(x=times, y=clim_temp, color=clim_color, linewidth=2.6, errorbar=None, ax=ax)

# precipitation
sns.lineplot(data=pert, x='time', y='precip', hue='member', palette=pert_palette,
             estimator=None, sort=False, legend=False, linewidth=0.8, ax=ax2)
sns.lineplot(data=ctrl, x='time', y='precip', color=palette['Control'],
             estimator=None, sort=False, linewidth=1.6, ax=ax2)
sns.lineplot(x=times, y=ens_mean_precip, color='white', linewidth=2.6, errorbar=None, ax=ax2)
sns.lineplot(x=times, y=oper_precip, color=oper_color, linewidth=2.6, errorbar=None, ax=ax2)

ax.set_xlim(pd.Timestamp('2021-10-23 00:00'), pd.Timestamp('2021-11-08 06:00'))
ax.set_ylim(-20, 25)
ax2.set_ylim(0, 40)

ax.set_xticks(x_ticks)
ax.set_xticks(x_days, minor=True)
ax.xaxis.set_major_formatter(mdates.DateFormatter('%d%b %Hz'))
ax.set_yticks(np.arange(-20, 26, 5))
ax2.set_yticks([0, 10, 20, 30, 40])
ax2.yaxis.set_minor_locator(MultipleLocator(1))

ax.tick_params(axis='x', which='both', length=0, colors='white', labelsize=7.5, pad=6)
ax.tick_params(axis='y', direction='in', length=3, colors='white', labelsize=7.5, pad=7)
ax2.tick_params(axis='y', which='both', direction='in', length=3, colors='white',
                labelsize=7.5, pad=5)

grid_kw = dict(color='#3f3f3f', linestyle=(0, (4, 4)), linewidth=0.8)
ax.grid(True, which='both', axis='x', **grid_kw)
ax.grid(True, which='major', axis='y', **grid_kw)
ax2.grid(False)
for a in (ax, ax2):
    for s in a.spines.values():
        s.set_color('#c8c8c8')
        s.set_linewidth(1.0)

ax.set_xlabel('Date (UTC)', fontsize=7.5, color='white')
ax.xaxis.set_label_coords(0.498, -0.047)
ax.set_ylabel('850 hPa Temp. (°C)', fontsize=7.5, color='white')
ax.yaxis.set_label_coords(-0.048, 0.497)
ax2.set_ylabel('Niederschlag (mm)', fontsize=7.5, color='white')
ax2.yaxis.set_label_coords(1.045, 0.497)

fig.text(435.5 / W, 1 - 12 / H, 'Bolzano  (IT)  850 hPa Temp. & Niederschlag | Sat, 23Oct2021 06Z',
         ha='center', va='center', fontsize=11.5, fontweight='bold', color='white')
fig.text(120 / W, 1 - 599 / H, 'GFS Ensemble, 46.5N, 11.5E', ha='left', va='center',
         fontsize=11.5, color='white')
fig.text(793 / W, 1 - 599 / H, 'Wetterzentrale.de', ha='right', va='center',
         fontsize=11.5, color='white')


def legend_entry(x, y, color, label, va='center'):
    fig.add_artist(Line2D([x / W, (x + 9) / W], [1 - y / H, 1 - y / H], color=color, lw=1.6))
    fig.text((x + 9.5) / W, 1 - y / H, label, color='white', fontsize=7.5, ha='left', va=va,
             linespacing=0.95)


for k, name in enumerate(member_names):
    row, col = k // 2, k % 2
    legend_entry(-1 if col == 0 else 54, 40 + 15 * row, palette[name], name)
legend_entry(54, 265, 'white', 'Ens. mean')
legend_entry(-1, 305, oper_color, 'Oper')
legend_entry(54, 293, clim_color, '1981-2010\nmean', va='top')
fig.texts[-1].set_position((63.5 / W, 1 - 287.5 / H))

fig.savefig('out.png', dpi=100, facecolor='black')
